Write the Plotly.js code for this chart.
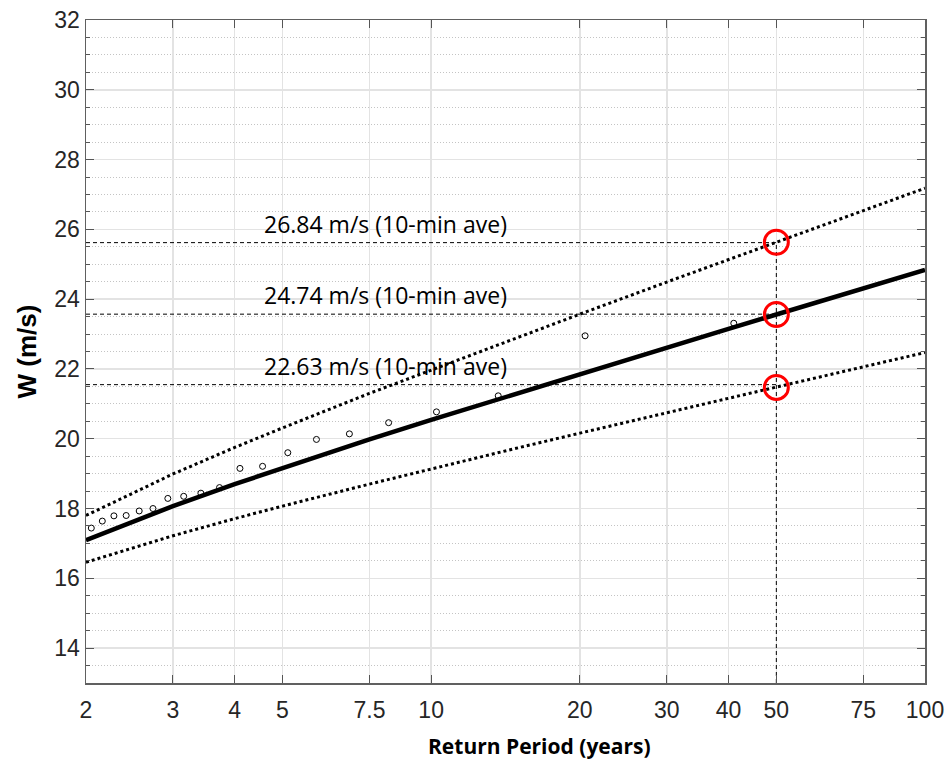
<!DOCTYPE html>
<html>
<head>
<meta charset="utf-8">
<script src="https://cdn.plot.ly/plotly-3.0.1.min.js"></script>
<style>
  html, body { margin: 0; padding: 0; background: #ffffff; }
  #chart { width: 948px; height: 761px; }
</style>
</head>
<body>
<div id="chart"></div>
<script>
// ---- Data ----
const periods = [2, 3, 4, 5, 7.5, 10, 15, 20, 30, 40, 50, 75, 100];
const fitW    = [17.09, 18.07, 18.70, 19.16, 19.98, 20.54, 21.31, 21.86, 22.61, 23.15, 23.56, 24.31, 24.84];
const upperW  = [17.80, 18.99, 19.75, 20.31, 21.30, 21.97, 22.91, 23.57, 24.49, 25.13, 25.63, 26.54, 27.18];
const lowerW  = [16.46, 17.22, 17.71, 18.07, 18.70, 19.14, 19.74, 20.16, 20.75, 21.16, 21.48, 22.06, 22.47];

const obsPeriod = [41, 20.5, 13.67, 10.25, 8.2, 6.83, 5.857, 5.125, 4.556, 4.1, 3.727, 3.417, 3.154, 2.929, 2.733, 2.563, 2.412, 2.278, 2.158, 2.05];
const obsW      = [23.31, 22.95, 21.23, 20.77, 20.46, 20.14, 19.98, 19.60, 19.21, 19.15, 18.60, 18.44, 18.35, 18.29, 18.00, 17.93, 17.80, 17.79, 17.64, 17.44];

const designPeriod = 50;
const designLevels = [25.62, 23.57, 21.55];   // dashed guide lines (plotted W)
const circleW      = [25.63, 23.56, 21.47];   // red highlighted points
const designLabels = ["26.84 m/s (10-min ave)", "24.74 m/s (10-min ave)", "22.63 m/s (10-min ave)"];

const xTickVals = [2, 3, 4, 5, 7.5, 10, 20, 30, 40, 50, 75, 100];
const xTickText = ["2", "3", "4", "5", "7.5", "10", "20", "30", "40", "50", "75", "100"];
const yMin = 13, yMax = 32;
const xMin = 2, xMax = 100;

// ---- Traces ----
const traces = [];

// dashed guide lines
designLevels.forEach(function (lvl) {
  traces.push({
    x: [xMin, designPeriod], y: [lvl, lvl],
    mode: 'lines', hoverinfo: 'skip',
    line: { color: '#000000', width: 1, dash: '4px,3px' }
  });
});
traces.push({
  x: [designPeriod, designPeriod], y: [yMin, designLevels[0]],
  mode: 'lines', hoverinfo: 'skip',
  line: { color: '#000000', width: 1, dash: '4px,3px' }
});

// confidence bounds
traces.push({ x: periods, y: upperW, mode: 'lines', line: { color: '#000000', width: 3, dash: 'dot' } });
traces.push({ x: periods, y: lowerW, mode: 'lines', line: { color: '#000000', width: 3, dash: 'dot' } });
// fitted line
traces.push({ x: periods, y: fitW, mode: 'lines', line: { color: '#000000', width: 4.5 } });
// observed points
traces.push({
  x: obsPeriod, y: obsW, mode: 'markers',
  marker: { symbol: 'circle-open', size: 6, color: '#000000', line: { width: 1, color: '#000000' } }
});
// red circles
traces.push({
  x: [designPeriod, designPeriod, designPeriod], y: circleW, mode: 'markers',
  marker: { symbol: 'circle-open', size: 24, color: '#ff0000', line: { width: 3, color: '#ff0000' } }
});

const tickFont = { family: 'Liberation Sans, Arial, sans-serif', size: 23, color: '#262626' };

const annotations = designLabels.map(function (txt, i) {
  return {
    text: txt, xref: 'paper', x: 0.2098, xanchor: 'left',
    yref: 'y', y: designLevels[i], yanchor: 'middle', yshift: 19,
    showarrow: false,
    font: { family: 'Open Sans, sans-serif', size: 23, color: '#000000' }
  };
});
annotations.push({
  text: '<b>Return Period (years)</b>', xref: 'paper', x: 0.540, xanchor: 'center',
  yref: 'paper', y: -0.095, yanchor: 'middle', showarrow: false,
  font: { family: 'Open Sans, sans-serif', size: 21, color: '#000000' }
});
annotations.push({
  text: '<b>W (m/s)</b>', xref: 'paper', x: -0.0715, xanchor: 'center',
  yref: 'paper', y: 0.5, yanchor: 'middle', textangle: -90, showarrow: false,
  font: { family: 'Liberation Sans, Arial, sans-serif', size: 26, color: '#000000' }
});

const layout = {
  width: 948, height: 761,
  margin: { l: 86, r: 23, t: 20, b: 78, pad: 0 },
  paper_bgcolor: '#ffffff', plot_bgcolor: '#ffffff',
  showlegend: false,
  xaxis: {
    type: 'log',
    range: [Math.log10(xMin), Math.log10(xMax)],
    tickmode: 'array', tickvals: xTickVals, ticktext: xTickText,
    ticks: 'inside', ticklen: 8, tickwidth: 1, tickcolor: '#555555',
    showline: true, linecolor: '#606060', linewidth: 1.5, mirror: 'ticks',
    showgrid: true, gridcolor: '#e3e3e3', gridwidth: 1.5,
    zeroline: false, tickfont: tickFont, ticklabelstandoff: 6
  },
  yaxis: {
    range: [yMin, yMax],
    tickmode: 'linear', tick0: 0, dtick: 2,
    ticks: 'inside', ticklen: 8, tickwidth: 1, tickcolor: '#555555',
    showline: true, linecolor: '#606060', linewidth: 1.5, mirror: 'ticks',
    showgrid: true, gridcolor: '#e3e3e3', gridwidth: 1.5,
    zeroline: false, tickfont: tickFont,
    minor: {
      tick0: 0, dtick: 0.5, ticks: 'inside', ticklen: 4, tickcolor: '#555555',
      showgrid: true, gridcolor: '#c4c4c4', griddash: '1px,2px', gridwidth: 1
    }
  },
  annotations: annotations
};

Plotly.newPlot('chart', traces, layout, { staticPlot: true, displayModeBar: false });
</script>
</body>
</html>
